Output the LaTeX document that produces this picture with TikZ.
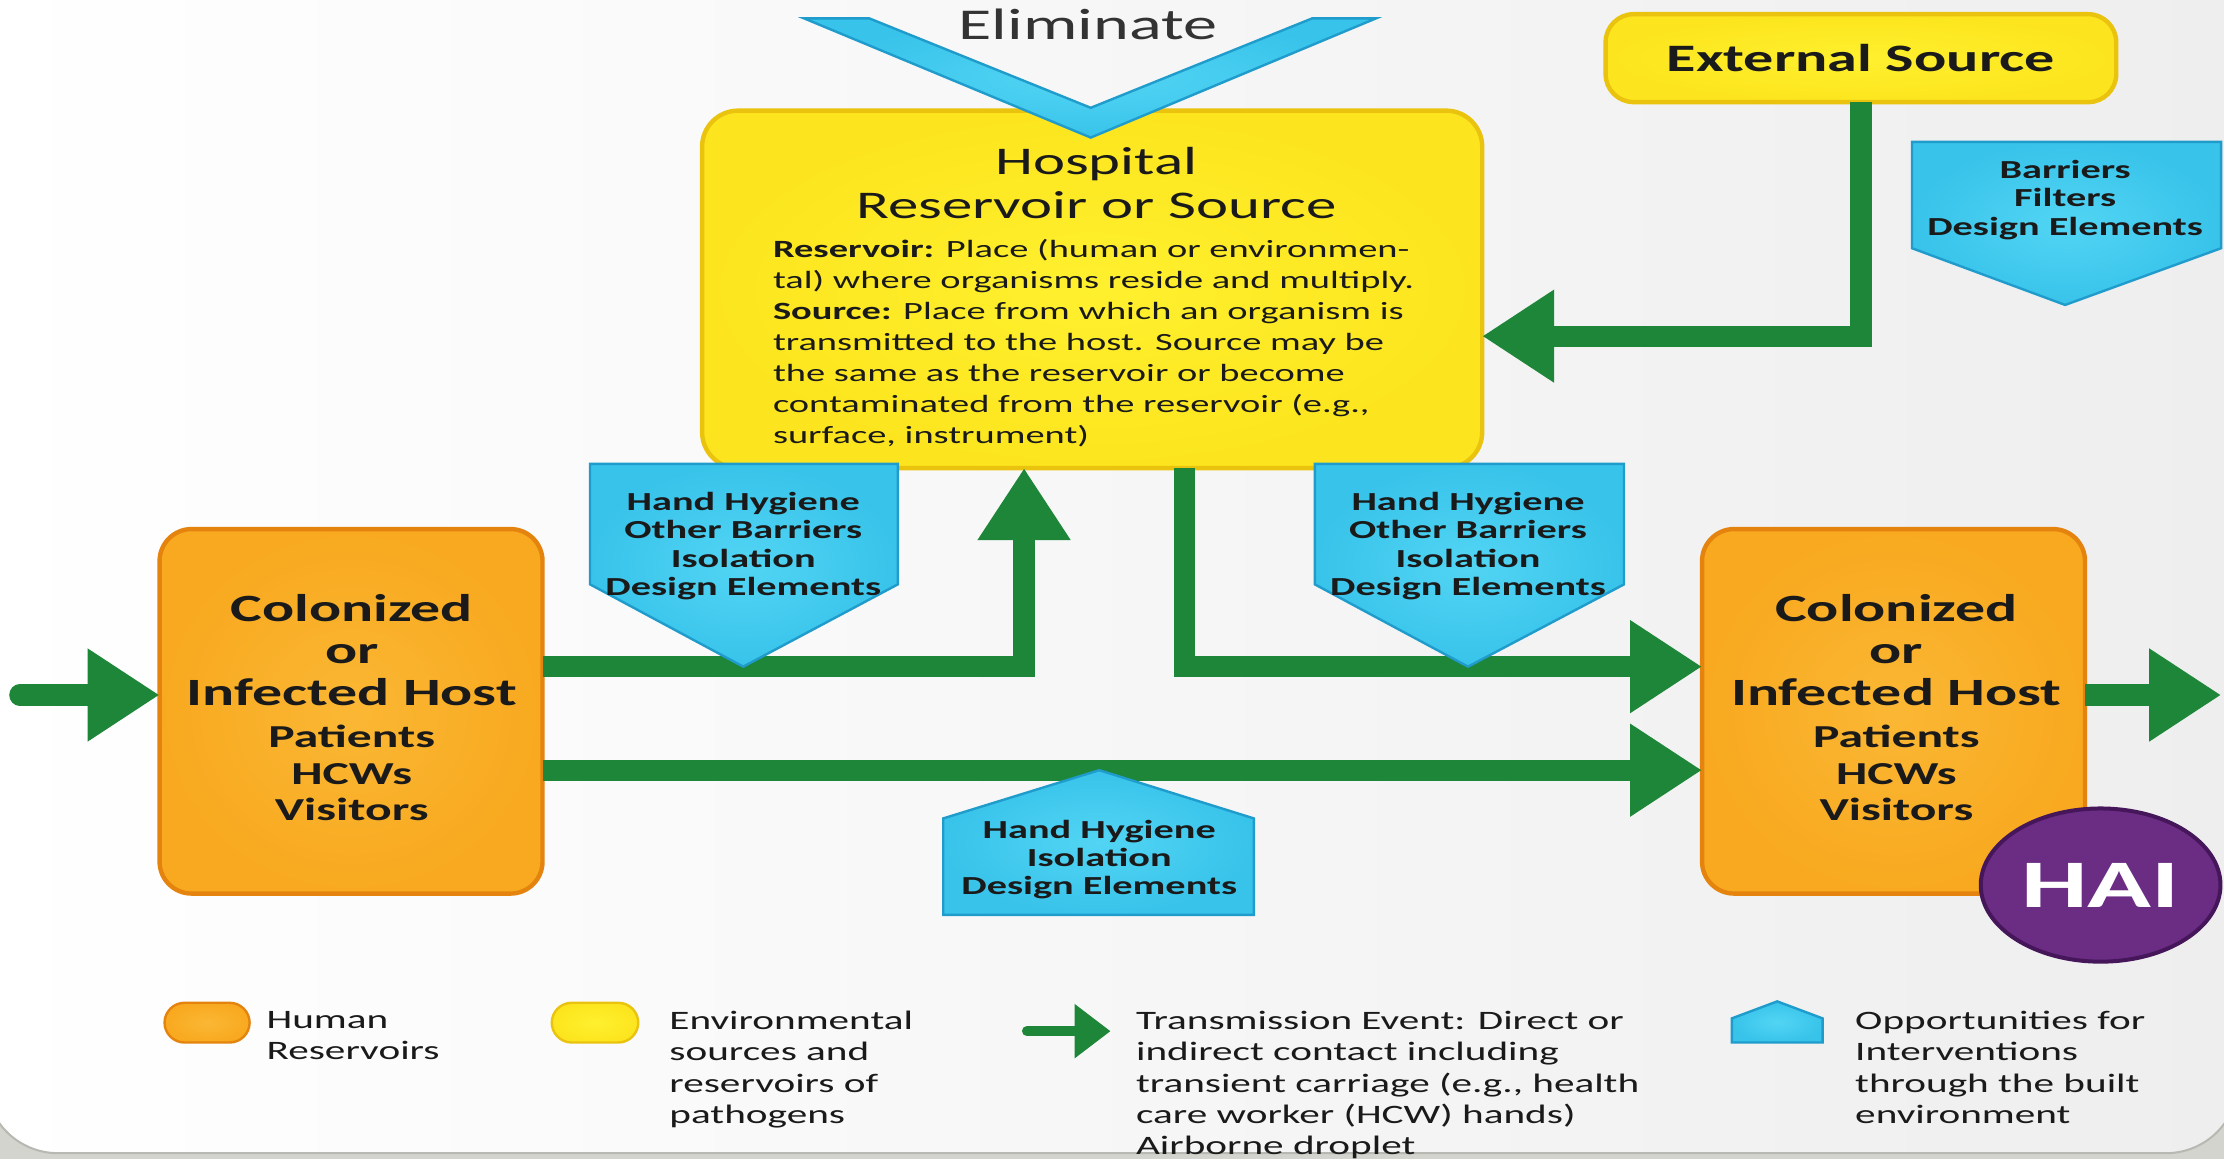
\documentclass[tikz,border=0pt]{standalone}
\usepackage{fontspec}
\setmainfont{Carlito}[FakeStretch=1.55]
\usetikzlibrary{arrows.meta,shapes.geometric,calc}

\definecolor{bgGray}{HTML}{D4D4CE}
\definecolor{paperEdge}{HTML}{B8B8B2}
\definecolor{yelFill}{HTML}{FCE51E}
\definecolor{yelLight}{HTML}{FFF02E}
\definecolor{yelEdge}{HTML}{E9C30E}
\definecolor{oraFill}{HTML}{F8A91F}
\definecolor{oraLight}{HTML}{FBB734}
\definecolor{oraEdge}{HTML}{E4840E}
\definecolor{grnLine}{HTML}{1D8638}
\definecolor{bluFill}{HTML}{38C3EA}
\definecolor{bluLight}{HTML}{52D5F4}
\definecolor{bluEdge}{HTML}{1F9CCB}
\definecolor{purFill}{HTML}{6B2C84}
\definecolor{purEdge}{HTML}{45175A}
\definecolor{txtDark}{HTML}{1A1A1A}
\definecolor{txtGray}{HTML}{333333}

% one unit of the picture grid
\newcommand\pxu{0.7092pt}

\begin{document}
\begin{tikzpicture}[x=0.7092pt,y=-0.7092pt,
  every node/.style={text=txtDark, inner sep=0pt, outer sep=0pt},
  hostbox/.style={draw=oraEdge, line width=2.2pt, inner color=oraLight, outer color=oraFill,
    rounded corners=16pt, minimum width=270*\pxu, minimum height=257*\pxu},
  hosttitle/.style={align=center, font=\fontsize{19.3}{21}\selectfont\bfseries},
  hostsub/.style={align=center, font=\fontsize{16}{18.4}\selectfont\bfseries},
  envbox/.style={draw=yelEdge, line width=2.2pt, inner color=yelLight, outer color=yelFill,
    rounded corners=18pt},
  flow/.style={draw=grnLine, line width=15*\pxu, line join=miter,
    -{Triangle[length=36pt, width=44pt]}},
  bluebox/.style={inner color=bluLight, outer color=bluFill, draw=bluEdge, line width=1.2pt,
    line join=miter},
  bluetext/.style={align=center, font=\fontsize{13}{14.2}\selectfont\bfseries},
  legtext/.style={align=left, anchor=north west, font=\fontsize{13.3}{15.6}\selectfont},
]
\useasboundingbox (0,0) rectangle (1568,817);

% slide background and page frame
\fill[bgGray] (0,0) rectangle (1568,817);
\shade[left color=white, right color={rgb,255:red,238;green,238;blue,238},
  draw=paperEdge, line width=1pt, rounded corners=36pt] (-10,-60) rectangle (1578,813);

% reservoirs and hosts
\node[envbox, minimum width=550*\pxu, minimum height=252*\pxu] (hosp) at (770,204) {};
\node[envbox, rounded corners=14pt, minimum width=360*\pxu, minimum height=62*\pxu,
  font=\fontsize{19.4}{22}\selectfont\bfseries] (ext) at (1312,41) {External Source};
\node[hostbox] (lhost) at (247.5,501.5) {};
\node[hosttitle] (lhostTitle) at (248,458) {Colonized\\or\\Infected Host};
\node[hostsub] (lhostSub) at (248,545) {Patients\\HCWs\\Visitors};
\node[hostbox] (rhost) at (1335,501.5) {};
\node[hosttitle] (rhostTitle) at (1337,458) {Colonized\\or\\Infected Host};
\node[hostsub] (rhostSub) at (1337,545) {Patients\\HCWs\\Visitors};

% hospital reservoir text
\node[font=\fontsize{19.6}{22}\selectfont, align=center] (hospTitle) at (773,129)
  {Hospital\\Reservoir or Source};
\node[anchor=north west, align=left, font=\fontsize{12.4}{15.5}\selectfont] (hospBody) at (545,169)
  {\textbf{Reservoir:} Place (human or environmen-\\
   tal) where organisms reside and multiply.\\
   \textbf{Source:} Place from which an organism is\\
   transmitted to the host. Source may be\\
   the same as the reservoir or become\\
   contaminated from the reservoir (e.g.,\\
   surface, instrument)};

% eliminate chevron
\path[bluebox] (567,13) -- (613,13) -- (769,76) -- (925,13) -- (970,13) -- (769,97) -- cycle;
\node[font=\fontsize{22}{24}\selectfont, text=txtGray] (elim) at (767,17) {Eliminate};

% level guides for the transmission routes
\coordinate (yUp) at (0,470);
\coordinate (yLow) at (0,543);
\coordinate (yExt) at (0,237);
\coordinate (xUp) at (722,0);
\coordinate (xDown) at (835,0);
\coordinate (inStart) at (14,490);
\coordinate (outEnd) at (1566,490);

% transmission routes
\draw[flow, line cap=round] (inStart) -- (lhost.west |- inStart);
\draw[flow] (rhost.east |- outEnd) -- (outEnd);
\draw[flow] (lhost.east |- yUp) -| (hosp.south -| xUp);
\draw[flow] (hosp.south -| xDown) |- (rhost.west |- yUp);
\draw[flow] (lhost.east |- yLow) -- (rhost.west |- yLow);
\draw[flow] (ext.south) |- (hosp.east |- yExt);

% intervention points
\path[bluebox] (416,327) -- (633,327) -- (633,412) -- (524,470) -- (416,412) -- cycle;
\node[bluetext] (hh1) at (524,385) {Hand Hygiene\\Other Barriers\\Isolation\\Design Elements};
\path[bluebox] (927,327) -- (1145,327) -- (1145,412) -- (1035,470) -- (927,412) -- cycle;
\node[bluetext] (hh2) at (1035,385) {Hand Hygiene\\Other Barriers\\Isolation\\Design Elements};
\path[bluebox] (665,645) -- (665,577) -- (775,543) -- (884,577) -- (884,645) -- cycle;
\node[bluetext] (hh3) at (775,606) {Hand Hygiene\\Isolation\\Design Elements};
\path[bluebox] (1348,100) -- (1566,100) -- (1566,175) -- (1456,215) -- (1348,175) -- cycle;
\node[bluetext] (bar) at (1456,141) {Barriers\\Filters\\Design Elements};

% infection marker
\node[ellipse, fill=purFill, draw=purEdge, line width=2pt, minimum width=169*\pxu,
  minimum height=108*\pxu, text=white, font=\fontsize{34}{38}\selectfont\bfseries]
  (hai) at (1481,624) {HAI};

% legend
\path[inner color=oraLight, outer color=oraFill, draw=oraEdge, line width=1.2pt,
  rounded corners=10pt] (116,707) rectangle (176,735);
\node[legtext] (legHuman) at (188,713) {Human\\Reservoirs};
\path[inner color=yelLight, outer color=yelFill, draw=yelEdge, line width=1.2pt,
  rounded corners=10pt] (389,707) rectangle (450,735);
\node[legtext] (legEnv) at (472,713) {Environmental\\sources and\\reservoirs of\\pathogens};
\coordinate (legA) at (724,727);
\coordinate (legB) at (783,727);
\draw[draw=grnLine, line width=7*\pxu, line cap=round,
  -{Triangle[length=18pt, width=26pt]}] (legA) -- (legB);
\node[legtext] (legTrans) at (801,713)
  {Transmission Event: Direct or\\indirect contact including\\transient carriage (e.g., health\\care worker (HCW) hands)\\Airborne droplet};
\path[bluebox] (1221,735) -- (1221,718) -- (1253,706) -- (1285,718) -- (1285,735) -- cycle;
\node[legtext] (legOpp) at (1308,713)
  {Opportunities for\\Interventions\\through the built\\environment};
\end{tikzpicture}
\end{document}
